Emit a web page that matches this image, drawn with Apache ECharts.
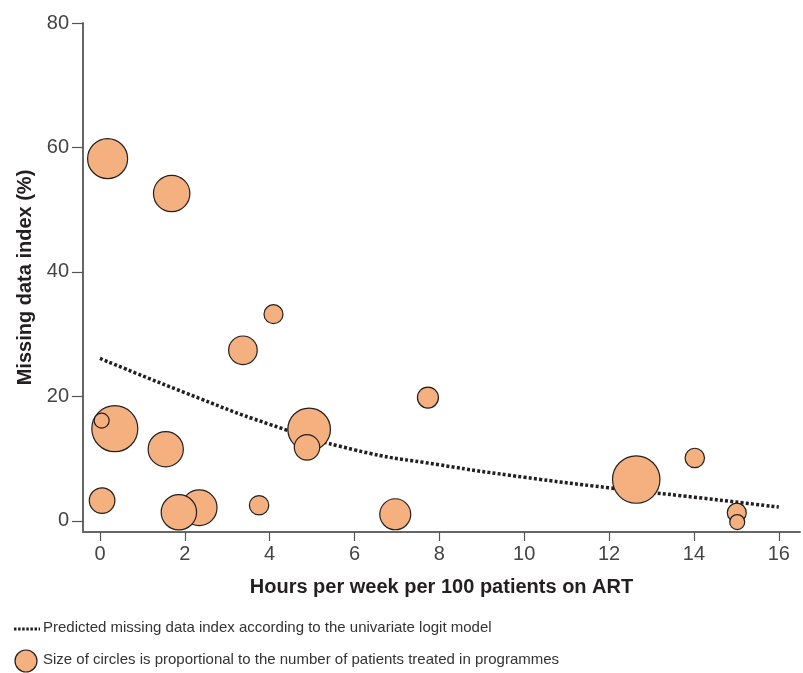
<!DOCTYPE html>
<html><head><meta charset="utf-8">
<script src="https://cdn.jsdelivr.net/npm/echarts@6/dist/echarts.min.js"></script>
<style>html,body{margin:0;padding:0;background:#fff}#c{width:803px;height:673px}</style>
</head><body><div id="c"></div>
<script>
// Programme data (largest first so smaller circles sit on top):
// hours per week per 100 patients, missing data index (%), relative programme size
const hours   = [12.64, 0.35, 4.93, 0.18, 1.69, 2.34, 6.96, 1.86, 1.55, 3.37, 0.05, 4.88, 7.73, 14.02, 3.75, 4.09, 15.01, 0.04, 15.02];
const missing = [6.63, 14.8, 14.7, 58.2, 52.6, 2.1, 1.05, 1.37, 11.5, 27.4, 3.25, 11.8, 19.8, 10.1, 2.5, 33.2, 1.3, 16.1, -0.2];
const patients= [23.7, 23, 21.3, 20, 18.2, 17.8, 15.5, 17.7, 17.6, 14.3, 12.8, 12.7, 10.5, 9.7, 9.7, 9.5, 9.5, 7.5, 7.5];
// Predicted curve
const predX = [0, 2, 4, 6, 8, 10, 12, 14, 16];
const predY = [26.1, 20.6, 15.5, 11.4, 9.0, 7.0, 5.3, 3.8, 2.2];
const xTicks = [0, 2, 4, 6, 8, 10, 12, 14, 16];
const yTicks = [0, 20, 40, 60, 80];

const FONT = '"Liberation Sans Narrow", "Liberation Sans", Arial, sans-serif';
const chart = echarts.init(document.getElementById('c'), null, {renderer: 'canvas'});
const bubbles = hours.map((h, i) => [h, missing[i], patients[i]]);
const pred = predX.map((x, i) => [x, predY[i]]);

chart.setOption({
  animation: false,
  grid: {left: 83, right: 3, top: 23, bottom: 141, containLabel: false},
  xAxis: {
    type: 'value', min: -0.4, max: 16.5,
    name: 'Hours per week per 100 patients on ART',
    nameLocation: 'middle', nameGap: 45,
    nameTextStyle: {fontFamily: FONT, fontWeight: 'bold', fontSize: 20, color: '#231f20'},
    axisLine: {show: true, onZero: false, lineStyle: {color: '#666', width: 2}},
    axisTick: {show: true, length: 9, inside: false, customValues: xTicks, lineStyle: {color: '#555', width: 1.2}},
    axisLabel: {customValues: xTicks, fontFamily: FONT, fontSize: 20, color: '#444', margin: 12},
    splitLine: {show: false}
  },
  yAxis: {
    type: 'value', min: -1.8, max: 80,
    name: 'Missing data index (%)',
    nameLocation: 'middle', nameGap: 47,
    nameTextStyle: {fontFamily: FONT, fontWeight: 'bold', fontSize: 20, color: '#231f20'},
    axisLine: {show: true, onZero: false, lineStyle: {color: '#666', width: 2}},
    axisTick: {show: true, length: 11, customValues: yTicks, lineStyle: {color: '#555', width: 1.2}},
    axisLabel: {customValues: yTicks, fontFamily: FONT, fontSize: 20, color: '#444', margin: 14},
    splitLine: {show: false}
  },
  series: [
    {
      type: 'line', data: pred, smooth: true, symbol: 'none', z: 1,
      lineStyle: {color: '#231f20', width: 3.5, type: [3, 2.2]}
    },
    {
      type: 'scatter', data: bubbles, z: 2,
      symbolSize: d => d[2] * 2,
      itemStyle: {color: '#F4B07E', borderColor: '#231f20', borderWidth: 1.2, opacity: 1}
    }
  ],
  graphic: [
    {type: 'line', shape: {x1: 14, y1: 629, x2: 40, y2: 629}, style: {stroke: '#231f20', lineWidth: 3, lineDash: [2.5, 1.6]}},
    {type: 'text', left: 43, top: 620, style: {text: 'Predicted missing data index according to the univariate logit model', font: '15px ' + FONT, fill: '#333'}},
    {type: 'circle', shape: {cx: 26, cy: 661, r: 11}, style: {fill: '#F4B07E', stroke: '#231f20', lineWidth: 1.2}},
    {type: 'text', left: 43, top: 652, style: {text: 'Size of circles is proportional to the number of patients treated in programmes', font: '15px ' + FONT, fill: '#333'}}
  ]
});
</script></body></html>
